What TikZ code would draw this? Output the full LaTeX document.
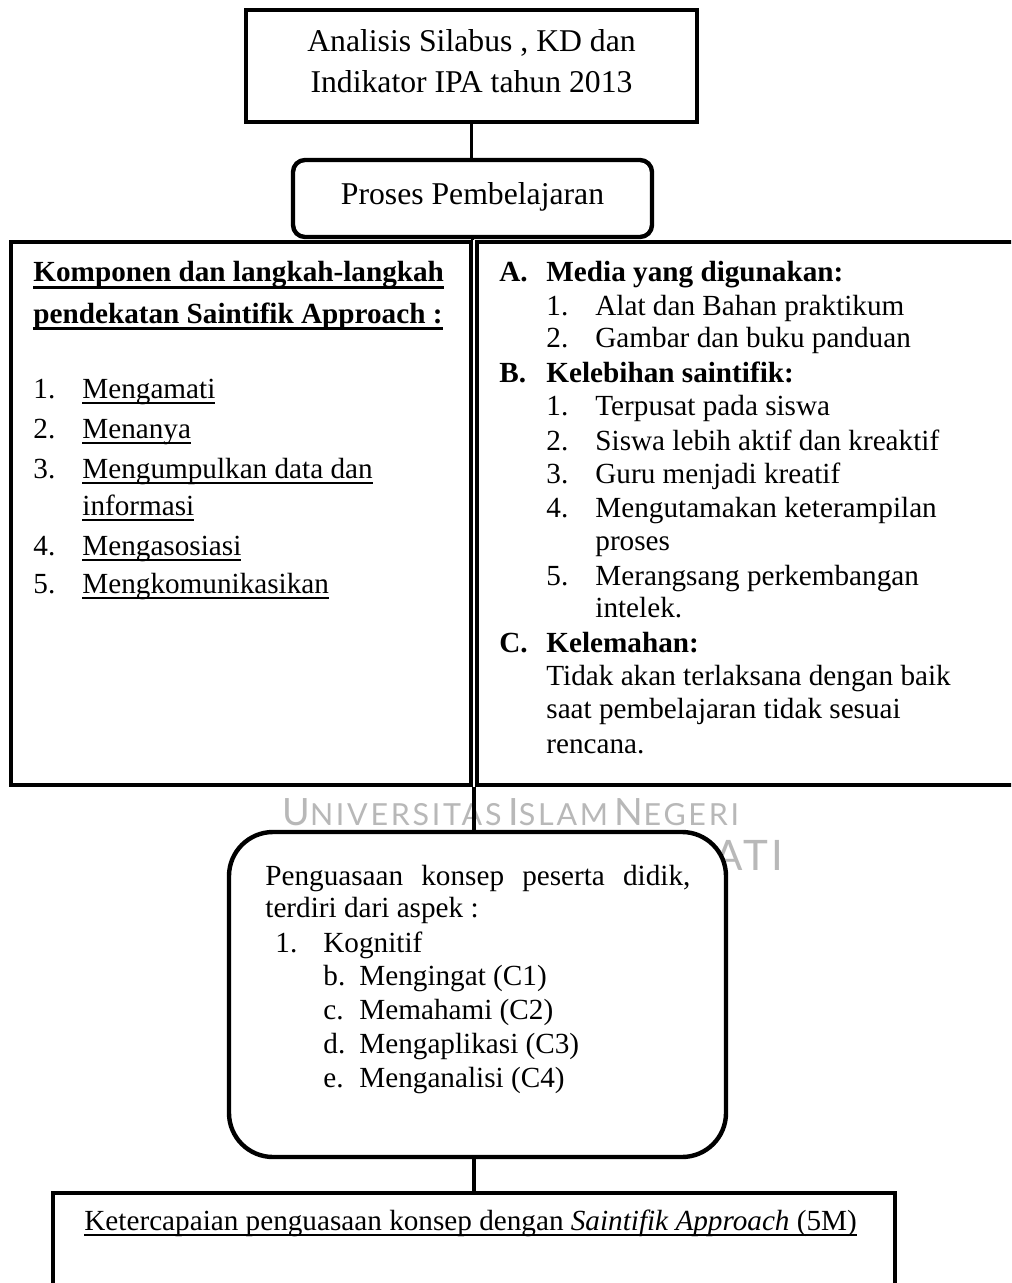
\documentclass[tikz,border=0pt]{standalone}
\usepackage{fontspec}
\setmainfont{Liberation Serif}
\newfontfamily\wmfont[LetterSpace=9]{Lato}
\usetikzlibrary{calc}
\newcommand\fmain{\fontsize{14.6pt}{17pt}\selectfont}
\newcommand\fbig{\fontsize{15.85pt}{19pt}\selectfont}
\newsavebox\ulbox
\newcommand\ulin[1]{\sbox\ulbox{#1}\rlap{\rule[-2.9pt]{\wd\ulbox}{0.9pt}}\usebox\ulbox}
\newcommand\hul[1]{\sbox\ulbox{#1}\rlap{\rule[-3.6pt]{\wd\ulbox}{1.4pt}}\usebox\ulbox}
\newcommand\wmbig[1]{{\fontsize{18.8pt}{19pt}\selectfont #1}}
\newcommand\wmsmall[1]{{\fontsize{15.2pt}{16pt}\selectfont #1}}
\begin{document}
\begin{tikzpicture}[x=0.5pt,y=-0.5pt,
  box/.style={draw, line width=2pt, inner sep=0pt},
  rbox/.style={draw, line width=2.2pt, inner sep=0pt, fill=white},
  conn/.style={line width=1.6pt},
  tx/.style={inner sep=0pt, anchor=base west, font=\fmain},
  txc/.style={inner sep=0pt, anchor=base, font=\fbig},
  wm/.style={inner sep=0pt, anchor=base west, text=black!28, font=\wmfont}]
\clip (0,0) rectangle (1011,1283);
\fill[white] (0,0) rectangle (1011,1283);

% watermark
\node[wm] (wm1) at (282,825) {\wmbig{U}\wmsmall{NIVERSITAS} \wmbig{I}\wmsmall{SLAM} \wmbig{N}\wmsmall{EGERI}};
\node[wm, anchor=base east, font=\wmfont\fontsize{21pt}{22pt}\selectfont] (wm2) at (784,870) {ATI};

% boxes
\node[box, minimum width=225.5pt, minimum height=56pt] (top) at (471.5,66) {};
\node[box, rounded corners=6pt, line width=2.2pt, minimum width=179.5pt, minimum height=38.5pt] (proses) at (472.5,198.5) {};
\node[box, minimum width=230pt, minimum height=271.5pt] (left) at (241,513.5) {};
\node[box, minimum width=281.5pt, minimum height=271.5pt] (right) at (758.5,513.5) {};
\node[rbox, rounded corners=22pt, minimum width=248.5pt, minimum height=162.5pt] (pen) at (477.5,994.5) {};
\node[box, minimum width=421pt, minimum height=75pt] (bot) at (474,1268) {};

% connectors
\coordinate (j) at ($(left.south east)!0.5!(right.south west)$);
\draw[conn] (top.south) -- (top.south |- proses.north);
\draw[conn] (proses.south) -- (proses.south |- left.north);
\draw[conn] (j) -- (j |- pen.north);
\draw[conn] (bot.north |- pen.south) -- (bot.north);

% top texts
\node[txc] (t1) at (471.5,52) {Analisis Silabus , KD dan};
\node[txc] (t2) at (471.5,93) {Indikator IPA tahun 2013};
\node[txc] (p1) at (472.5,205) {Proses Pembelajaran};

% left box
\node[tx, font=\fmain\bfseries] (h1) at (33,282) {\hul{Komponen dan langkah-langkah}};
\node[tx, font=\fmain\bfseries] (h2) at (33,323) {\hul{pendekatan Saintifik Approach :}};
\node[tx] (l1n) at (33,398) {1.};
\node[tx] (l1) at (82,398) {\ulin{Mengamati}};
\node[tx] (l2n) at (33,438) {2.};
\node[tx] (l2) at (82,438) {\ulin{Menanya}};
\node[tx] (l3n) at (33,478) {3.};
\node[tx] (l3) at (82,478) {\ulin{Mengumpulkan data dan}};
\node[tx] (l3b) at (82,515) {\ulin{informasi}};
\node[tx] (l4n) at (33,555) {4.};
\node[tx] (l4) at (82,555) {\ulin{Mengasosiasi}};
\node[tx] (l5n) at (33,593) {5.};
\node[tx] (l5) at (82,593) {\ulin{Mengkomunikasikan}};

% right box
\node[tx, font=\fmain\bfseries] (ra) at (499,282) {A.};
\node[tx, font=\fmain\bfseries] (rat) at (546,282) {Media yang digunakan:};
\node[tx] (ra1n) at (546,315) {1.};
\node[tx] (ra1) at (595,315) {Alat dan Bahan praktikum};
\node[tx] (ra2n) at (546,348) {2.};
\node[tx] (ra2) at (595,348) {Gambar dan buku panduan};
\node[tx, font=\fmain\bfseries] (rb) at (499,382) {B.};
\node[tx, font=\fmain\bfseries] (rbt) at (546,382) {Kelebihan saintifik:};
\node[tx] (rb1n) at (546,415) {1.};
\node[tx] (rb1) at (595,415) {Terpusat pada siswa};
\node[tx] (rb2n) at (546,450) {2.};
\node[tx] (rb2) at (595,450) {Siswa lebih aktif dan kreaktif};
\node[tx] (rb3n) at (546,483) {3.};
\node[tx] (rb3) at (595,483) {Guru menjadi kreatif};
\node[tx] (rb4n) at (546,517) {4.};
\node[tx] (rb4) at (595,517) {Mengutamakan keterampilan};
\node[tx] (rb4b) at (595,550) {proses};
\node[tx] (rb5n) at (546,585) {5.};
\node[tx] (rb5) at (595,585) {Merangsang perkembangan};
\node[tx] (rb5b) at (595,617) {intelek.};
\node[tx, font=\fmain\bfseries] (rc) at (499,652) {C.};
\node[tx, font=\fmain\bfseries] (rct) at (546,652) {Kelemahan:};
\node[tx] (rc1) at (546,685) {Tidak akan terlaksana dengan baik};
\node[tx] (rc2) at (546,718) {saat pembelajaran tidak sesuai};
\node[tx] (rc3) at (546,753) {rencana.};

% penguasaan box
\node[tx] (g1) at (265,885) {\makebox[212.5pt][s]{Penguasaan konsep peserta didik,}};
\node[tx] (g2) at (265,917) {terdiri dari aspek :};
\node[tx] (g3n) at (275,952) {1.};
\node[tx] (g3) at (323,952) {Kognitif};
\node[tx] (gbn) at (323,985) {b.};
\node[tx] (gb) at (359,985) {Mengingat (C1)};
\node[tx] (gcn) at (323,1019) {c.};
\node[tx] (gc) at (359,1019) {Memahami (C2)};
\node[tx] (gdn) at (323,1053) {d.};
\node[tx] (gd) at (359,1053) {Mengaplikasi (C3)};
\node[tx] (gen) at (323,1087) {e.};
\node[tx] (ge) at (359,1087) {Menganalisi (C4)};

% bottom box
\node[tx] (k1) at (84,1230) {\ulin{Ketercapaian penguasaan konsep dengan \textit{Saintifik Approach} (5M)}};
\end{tikzpicture}
\end{document}
